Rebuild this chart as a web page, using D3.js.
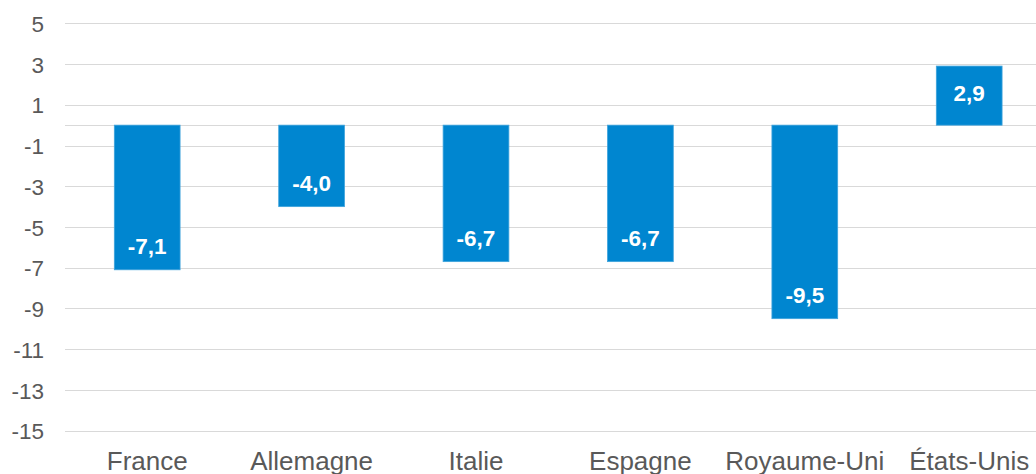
<!DOCTYPE html>
<html><head><meta charset="utf-8">
<script src="https://cdn.jsdelivr.net/npm/d3@7"></script>
<style>body{margin:0;background:#fff}svg{display:block}</style>
</head><body>
<svg id="c" width="1036" height="474"></svg>
<script>
const categories = ["France","Allemagne","Italie","Espagne","Royaume-Uni","États-Unis"];
const values = [-7.1,-4.0,-6.7,-6.7,-9.5,2.9];
const yTicks = [5,3,1,-1,-3,-5,-7,-9,-11,-13,-15];

const svg = d3.select("#c");
const plotLeft = 65, plotRight = 1051.4, plotTop = 23.3, plotBottom = 430.7;
const x = d3.scaleBand().domain(categories).range([plotLeft, plotRight]).paddingInner(0.6).paddingOuter(0.3);
const y = d3.scaleLinear().domain([-15,5]).range([plotBottom, plotTop]);
const fmt = v => d3.format(".1f")(v).replace(".", ",").replace("−","-");
const font = "'Liberation Sans', Arial, sans-serif";

// gridlines
svg.append("g").selectAll("line").data(yTicks.concat([0])).join("line")
  .attr("x1", plotLeft).attr("x2", 1036)
  .attr("y1", d => Math.round(y(d)) + 0.5).attr("y2", d => Math.round(y(d)) + 0.5)
  .attr("stroke", "#d9d9d9").attr("stroke-width", 1);

// y axis labels
const yAxis = d3.axisLeft(y).tickValues(yTicks).tickSize(0).tickPadding(0).tickFormat(d => String(d));
const ya = svg.append("g").attr("transform", "translate(44,0)").call(yAxis);
ya.select(".domain").remove();
ya.selectAll("text").attr("font-family", font).attr("font-size", 22.5).attr("fill", "#595959").attr("dy", "0.36em");

// bars
svg.append("g").selectAll("rect").data(values).join("rect")
  .attr("x", (d,i) => x(categories[i]))
  .attr("width", x.bandwidth())
  .attr("y", d => y(Math.max(0,d)))
  .attr("height", d => Math.abs(y(d) - y(0)))
  .attr("fill", "#0086d0").attr("stroke", "#3fa3dc").attr("stroke-width", 0.8);

// data labels
svg.append("g").selectAll("text").data(values).join("text")
  .attr("x", (d,i) => x(categories[i]) + x.bandwidth()/2)
  .attr("y", d => d < 0 ? y(d) - 16 : y(d) + 35)
  .attr("text-anchor", "middle")
  .attr("font-family", font).attr("font-weight", "bold").attr("font-size", 22.5)
  .attr("fill", "#ffffff")
  .text(d => fmt(d));

// category labels
const xAxis = d3.axisBottom(x).tickSize(0).tickPadding(0);
const xa = svg.append("g").attr("transform", "translate(0,470)").call(xAxis);
xa.select(".domain").remove();
xa.selectAll("text").attr("font-family", font).attr("font-size", 26).attr("fill", "#595959").attr("dy", 0);
</script>
</body></html>
